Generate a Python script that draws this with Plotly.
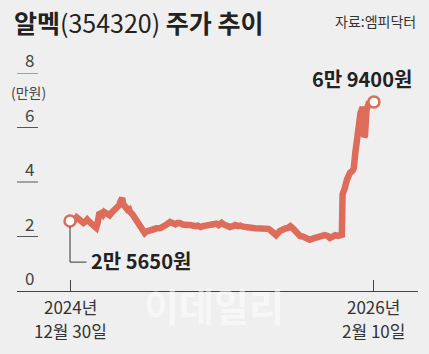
import plotly.graph_objects as go

dates = [
    "2024-12-30", "2025-01-02", "2025-01-06", "2025-01-08", "2025-01-10", "2025-01-13",
    "2025-01-15", "2025-01-17", "2025-01-20", "2025-01-22", "2025-01-24", "2025-01-27",
    "2025-01-31", "2025-02-03", "2025-02-05", "2025-02-07", "2025-02-10", "2025-02-12",
    "2025-02-14", "2025-02-17", "2025-02-19", "2025-02-21", "2025-02-24", "2025-02-26",
    "2025-02-28", "2025-03-04", "2025-03-06", "2025-03-07", "2025-03-10", "2025-03-11",
    "2025-03-13", "2025-03-14", "2025-03-17", "2025-03-19", "2025-03-20", "2025-03-24",
    "2025-03-27", "2025-03-31", "2025-04-03", "2025-04-07", "2025-04-09", "2025-04-11",
    "2025-04-14", "2025-04-16", "2025-04-21", "2025-04-25", "2025-04-30", "2025-05-06",
    "2025-05-09", "2025-05-13", "2025-05-16", "2025-05-20", "2025-05-23", "2025-05-26",
    "2025-05-30", "2025-06-02", "2025-06-05", "2025-06-09", "2025-06-12", "2025-06-16",
    "2025-06-19", "2025-06-23", "2025-06-26", "2025-06-30", "2025-07-03", "2025-07-07",
    "2025-07-10", "2025-07-14", "2025-07-17", "2025-07-21", "2025-07-24", "2025-07-28",
    "2025-08-01", "2025-08-05", "2025-08-08", "2025-08-12", "2025-08-15", "2025-08-19",
    "2025-08-21", "2025-08-25", "2025-08-28", "2025-09-01", "2025-09-04", "2025-09-08",
    "2025-09-10", "2025-09-15", "2025-09-17", "2025-09-22", "2025-09-24", "2025-09-30",
    "2025-10-02", "2025-10-07", "2025-10-11", "2025-10-15", "2025-10-17", "2025-10-21",
    "2025-10-25", "2025-10-27", "2025-10-31", "2025-11-03", "2025-11-07", "2025-11-10",
    "2025-11-13", "2025-11-16", "2025-11-20", "2025-11-23", "2025-11-27", "2025-11-30",
    "2025-12-03", "2025-12-06", "2025-12-10", "2025-12-13", "2025-12-17", "2025-12-20",
    "2025-12-24", "2025-12-26", "2025-12-29", "2025-12-30", "2025-12-31", "2026-01-02",
    "2026-01-05", "2026-01-07", "2026-01-09", "2026-01-12", "2026-01-14", "2026-01-16",
    "2026-01-18", "2026-01-20", "2026-01-23", "2026-01-26", "2026-01-27", "2026-01-28",
    "2026-01-29", "2026-01-31", "2026-02-03", "2026-02-06", "2026-02-10",
]
prices = [  # 만원
    2.565, 2.55, 2.62, 2.70, 2.66, 2.62,
    2.55, 2.50, 2.56, 2.62, 2.56, 2.50,
    2.42, 2.32, 2.50, 2.82, 2.86, 2.80,
    2.90, 2.85, 2.82, 2.78, 2.88, 2.92,
    2.97, 3.05, 3.15, 3.25, 3.42, 3.20,
    3.08, 3.05, 2.98, 3.00, 2.92, 2.80,
    2.68, 2.50, 2.35, 2.20, 2.13, 2.18,
    2.22, 2.24, 2.25, 2.30, 2.31, 2.38,
    2.45, 2.53, 2.48, 2.45, 2.50, 2.50,
    2.44, 2.46, 2.42, 2.42, 2.38, 2.38,
    2.40, 2.35, 2.38, 2.40, 2.38, 2.42,
    2.45, 2.47, 2.42, 2.50, 2.44, 2.40,
    2.35, 2.38, 2.42, 2.38, 2.40, 2.36,
    2.36, 2.33, 2.31, 2.31, 2.30, 2.30,
    2.29, 2.31, 2.31, 2.28, 2.24, 2.10,
    2.05, 2.20, 2.28, 2.30, 2.30, 2.38,
    2.28, 2.20, 2.08, 2.02, 2.00, 1.95,
    1.92, 1.88, 1.92, 1.95, 2.00, 2.04,
    2.05, 2.05, 2.02, 1.95, 2.00, 2.05,
    2.02, 2.04, 2.06, 3.55, 3.72, 3.78,
    4.10, 4.28, 4.34, 4.40, 4.50, 5.06,
    5.43, 6.17, 6.53, 6.75, 6.60, 5.65,
    5.70, 6.64, 6.88, 6.90, 6.94,
]
y_ticks = [0, 2, 4, 6, 8]
y_unit = "(만원)"
x_tick_dates = ["2024-12-30", "2026-02-10"]
x_tick_line1 = ["2024년", "2026년"]
x_tick_line2 = ["12월 30일", "2월 10일"]
start_label = "2만 5650원"
end_label = "6만 9400원"

LINE = "#de6c5b"
BG = "#efefef"
TXT = "#222222"
FONT = "Noto Sans CJK KR"

fig = go.Figure()
fig.add_trace(go.Scatter(
    x=dates, y=prices, mode="lines",
    line=dict(color=LINE, width=6.5, shape="linear"),
    hoverinfo="skip",
))
fig.add_trace(go.Scatter(
    x=[dates[0], dates[-1]], y=[prices[0], prices[-1]], mode="markers",
    marker=dict(size=11, color="white", line=dict(color=LINE, width=2.5)),
    hoverinfo="skip",
))

L, R, T, B = 17, 11, 73, 63
W, H = 429, 354
pw = W - L - R
ph = H - T - B


def py(pix):
    """pixel row (from top) -> paper y"""
    return (H - B - pix) / ph


shapes = []
annotations = []
for v in y_ticks:
    if v > 0:
        shapes.append(dict(type="line", xref="paper", yref="y",
                           x0=0, x1=21 / pw, y0=v, y1=v,
                           line=dict(color="#555555", width=1)))
    annotations.append(dict(xref="paper", yref="y", x=12 / pw, y=v,
                            text=str(v), showarrow=False, xanchor="center",
                            yanchor="bottom", yshift=-1,
                            font=dict(family=FONT, size=17, color="#444444")))
annotations.append(dict(xref="paper", yref="y", x=11 / pw, y=7.3,
                        text=y_unit, showarrow=False, xanchor="center",
                        yanchor="middle",
                        font=dict(family=FONT, size=14, color="#444444")))

# x tick labels (two lines each)
for d, l1, l2 in zip(x_tick_dates, x_tick_line1, x_tick_line2):
    annotations.append(dict(xref="x", yref="paper", x=d, y=py(306), text=l1,
                            showarrow=False, xanchor="center", yanchor="middle",
                            font=dict(family=FONT, size=17, color="#333333")))
    annotations.append(dict(xref="x", yref="paper", x=d, y=py(330), text=l2,
                            showarrow=False, xanchor="center", yanchor="middle",
                            font=dict(family=FONT, size=17, color="#333333")))

# leader line for start label
shapes.append(dict(type="line", xref="x", yref="y", x0=dates[0], x1=dates[0],
                   y0=prices[0] - 0.2, y1=1.06, line=dict(color="#333333", width=1)))
shapes.append(dict(type="line", xref="x", yref="y", x0=dates[0], x1="2025-01-21",
                   y0=1.06, y1=1.06, line=dict(color="#333333", width=1)))

annotations.append(dict(xref="x", yref="y", x="2025-01-25", y=1.12,
                        text=start_label, showarrow=False, xanchor="left",
                        yanchor="middle",
                        font=dict(family=FONT, size=20, color=TXT, weight="bold")))
annotations.append(dict(xref="paper", yref="y", x=(414 - L) / pw, y=7.8,
                        text=end_label, showarrow=False, xanchor="right",
                        yanchor="middle",
                        font=dict(family=FONT, size=20, color=TXT, weight="bold")))

# title and source
annotations.append(dict(xref="paper", yref="paper", x=-5 / pw, y=py(22),
                        text="<b>알멕</b><span style='font-weight:normal'>(354320)</span><b> 주가 추이</b>",
                        showarrow=False, xanchor="left", yanchor="middle",
                        font=dict(family=FONT, size=25, color=TXT)))
annotations.append(dict(xref="paper", yref="paper", x=(418 - L) / pw, y=py(21),
                        text="자료:엠피닥터", showarrow=False, xanchor="right",
                        yanchor="middle",
                        font=dict(family=FONT, size=14, color="#333333")))
# watermark
annotations.append(dict(xref="paper", yref="paper", x=(214 - L) / pw, y=py(304),
                        text="<b>이데일리</b>", showarrow=False, xanchor="center",
                        yanchor="middle", opacity=0.5,
                        font=dict(family=FONT, size=38, color="#ffffff")))

fig.update_layout(
    width=W, height=H,
    margin=dict(l=L, r=R, t=T, b=B, pad=0),
    paper_bgcolor=BG, plot_bgcolor=BG,
    showlegend=False,
    xaxis=dict(
        type="date", range=["2024-10-20", "2026-04-10"],
        showgrid=False, zeroline=False,
        showline=True, linecolor="#444444", linewidth=1,
        ticks="inside", ticklen=11, tickcolor="#444444", tickwidth=1,
        tickvals=x_tick_dates, ticktext=["", ""],
        fixedrange=True,
    ),
    yaxis=dict(
        range=[0, 8], showgrid=False, zeroline=False, showticklabels=False,
        showline=False, fixedrange=True,
    ),
    shapes=shapes, annotations=annotations,
)

fig.write_html("out.html")
